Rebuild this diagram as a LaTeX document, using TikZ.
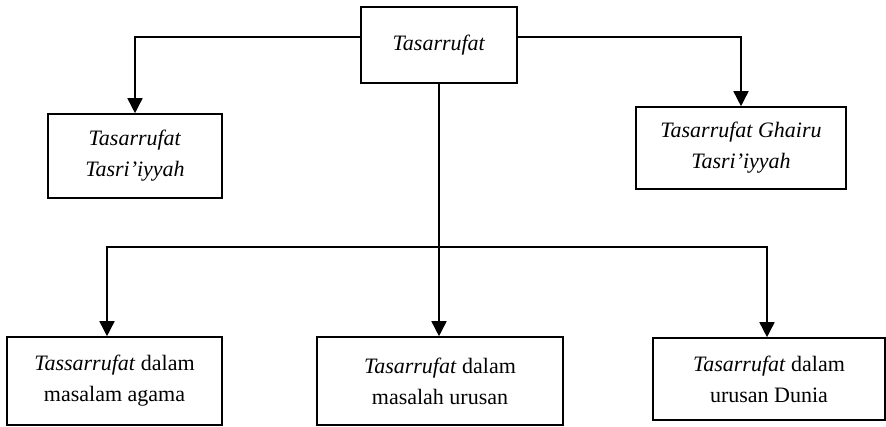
\documentclass[tikz,border=0pt]{standalone}
\usepackage{fontspec}
\setmainfont{Liberation Serif}
\usetikzlibrary{arrows.meta}
\begin{document}
\begin{tikzpicture}[x=1pt,y=-1pt,
  box/.style={draw,line width=1.6pt,rectangle,align=center,inner sep=0pt,
    font=\fontsize{22}{31}\selectfont},
  arr/.style={line width=1.6pt,-{Triangle[length=15pt,width=15pt]}},
  conn/.style={line width=1.6pt}]
\useasboundingbox (0,0) rectangle (886,426);
\node[box,minimum width=156pt,minimum height=76pt] (top) at (439,45) {\raisebox{3pt}{\textit{Tasarrufat}}};
\node[box,minimum width=174pt,minimum height=84pt] (l1) at (135,156) {\textit{Tasarrufat}\\\textit{Tasri’iyyah}};
\node[box,minimum width=210pt,minimum height=82pt] (r1) at (741,148) {\textit{Tasarrufat Ghairu}\\\textit{Tasri’iyyah}};
\node[box,minimum width=215pt,minimum height=88pt] (b1) at (114.5,381) {\textit{Tassarrufat} dalam\\masalam agama};
\node[box,minimum width=246pt,minimum height=88pt] (b2) at (440,381) {\textit{Tasarrufat} dalam\\masalah urusan};
\node[box,minimum width=232pt,minimum height=82pt] (b3) at (769,379) {\textit{Tasarrufat} dalam\\urusan Dunia};
\coordinate (j) at (439,247);
\draw[arr] (top.west |- {(0,37)}) -| (l1.north);
\draw[arr] (top.east |- {(0,37)}) -| (r1.north);
\draw[arr] (top.south) -- (top.south |- b2.north);
\draw[arr] (j) -| ([xshift=-7.5pt]b1.north);
\draw[arr] (j) -| ([xshift=-2pt]b3.north);
\end{tikzpicture}
\end{document}
